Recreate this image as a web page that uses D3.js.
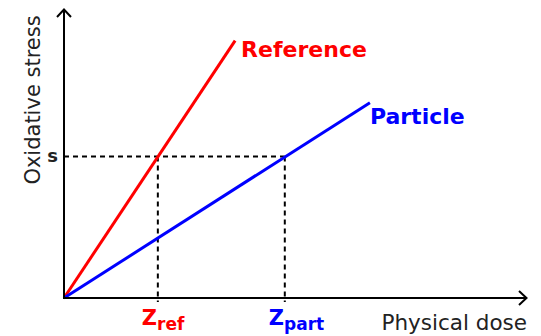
<!DOCTYPE html>
<html>
<head>
<meta charset="utf-8">
<script src="https://cdn.jsdelivr.net/npm/d3@7"></script>
<style>
html,body{margin:0;padding:0;background:#fff;}
svg{display:block;font-family:"DejaVu Sans",sans-serif;}
</style>
</head>
<body>
<svg id="chart" width="541" height="336"></svg>
<script>
// Data (arbitrary units)
const sLevel = 49.5;                 // oxidative stress level "s"
const zRef = 20.4;                   // dose giving s for reference
const zPart = 48.0;                  // dose giving s for particle
const referenceLine = [[0, 0], [37.2, 90]];
const particleLine = [[0, 0], [66.5, 68.3]];
const seriesNames = ["Reference", "Particle"];
const seriesColors = ["#ff0000", "#0000ff"];
const xTitle = "Physical dose";
const yTitle = "Oxidative stress";

const svg = d3.select("#chart");
const x = d3.scaleLinear().domain([0, 100]).range([64, 524]);
const y = d3.scaleLinear().domain([0, 100]).range([298, 12]);

const line = d3.line().x(d => x(d[0])).y(d => y(d[1]));

// dashed guides
svg.append("path")
  .attr("d", line([[0, sLevel], [zPart, sLevel]]))
  .attr("fill", "none").attr("stroke", "#000").attr("stroke-width", 2)
  .attr("stroke-dasharray", "5,4");
[zRef, zPart].forEach(z => {
  svg.append("line")
    .attr("x1", x(z)).attr("x2", x(z))
    .attr("y1", y(sLevel)).attr("y2", y(0) + 4)
    .attr("stroke", "#000").attr("stroke-width", 2)
    .attr("stroke-dasharray", "5,4");
});

// series lines
[referenceLine, particleLine].forEach((d, i) => {
  svg.append("path").attr("d", line(d))
    .attr("fill", "none").attr("stroke", seriesColors[i]).attr("stroke-width", 3);
});

// axes
svg.append("line").attr("x1", x(0)).attr("x2", x(0)).attr("y1", y(0) + 1).attr("y2", 9)
  .attr("stroke", "#000").attr("stroke-width", 2);
svg.append("path").attr("d", `M${x(0)-7},17 L${x(0)},9.5 L${x(0)+7},17`)
  .attr("fill", "none").attr("stroke", "#000").attr("stroke-width", 2);
svg.append("line").attr("x1", x(0) - 1).attr("x2", 527).attr("y1", y(0)).attr("y2", y(0))
  .attr("stroke", "#000").attr("stroke-width", 2);
svg.append("path").attr("d", `M519,${y(0)-7} L526.5,${y(0)} L519,${y(0)+7}`)
  .attr("fill", "none").attr("stroke", "#000").attr("stroke-width", 2);

// axis titles
svg.append("text").attr("x", 527).attr("y", 330).attr("text-anchor", "end")
  .attr("font-size", 21.5).attr("fill", "#222").text(xTitle);
svg.append("text").attr("transform", `translate(40,100) rotate(-90)`)
  .attr("text-anchor", "middle").attr("font-size", 21).attr("fill", "#222").text(yTitle);

// s label
svg.append("text").attr("x", 58).attr("y", y(sLevel) + 6).attr("text-anchor", "end")
  .attr("font-size", 18).attr("font-weight", "bold").attr("fill", "#222").text("s");

// series labels
const ends = [referenceLine[1], particleLine[1]];
const offs = [[6, 16], [0, 21]];
seriesNames.forEach((n, i) => {
  svg.append("text").attr("x", x(ends[i][0]) + offs[i][0]).attr("y", y(ends[i][1]) + offs[i][1])
    .attr("font-size", 22).attr("font-weight", "bold").attr("fill", seriesColors[i]).text(n);
});

// Z labels
const zs = [[zRef, "ref", seriesColors[0]], [zPart, "part", seriesColors[1]]];
zs.forEach(([z, sub, c]) => {
  const t = svg.append("text").attr("x", x(z) - 16).attr("y", 325)
    .attr("font-weight", "bold").attr("fill", c);
  t.append("tspan").attr("font-size", 21).text("Z");
  t.append("tspan").attr("font-size", 17).attr("dy", 5).text(sub);
});
</script>
</body>
</html>
